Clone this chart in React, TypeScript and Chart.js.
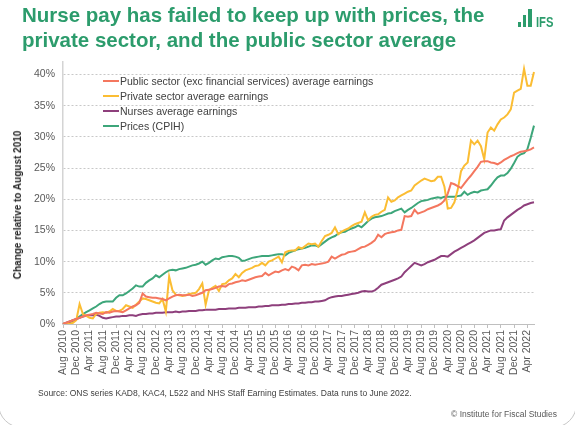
import React, { useEffect, useRef } from 'react';
import { Chart, registerables } from 'chart.js';

Chart.register(...registerables);

const MONTHS = ['Jan', 'Feb', 'Mar', 'Apr', 'May', 'Jun', 'Jul', 'Aug', 'Sep', 'Oct', 'Nov', 'Dec'];
const START_YEAR = 2010;
const START_MONTH = 7; // Aug
const N_POINTS = 143; // Aug 2010 .. Jun 2022

const categories: string[] = [];
for (let k = 0; k < N_POINTS; k++) {
  const m = (START_MONTH + k) % 12;
  const y = START_YEAR + Math.floor((START_MONTH + k) / 12);
  categories.push(MONTHS[m] + ' ' + y);
}

const yTicks = [0, 5, 10, 15, 20, 25, 30, 35, 40];

const publicSector = [
  0, 0.2, 0.4, 0.6, 0.8, 1.0, 1.2, 1.4, 1.5, 1.6,
  1.8, 1.7, 1.6, 1.9, 1.8, 2.0, 2.1, 2.0, 1.9, 2.2,
  2.5, 2.8, 3.0, 3.4, 4.9, 4.4, 4.3, 4.2, 4.2, 4.1,
  4.0, 3.8, 4.1, 4.4, 4.6, 4.7, 4.6, 4.6, 4.7, 4.5,
  4.6, 4.8, 5.0, 5.4, 5.5, 5.6, 5.8, 6.0, 6.1, 6.0,
  6.4, 6.5, 6.7, 6.8, 7.0, 6.9, 7.1, 7.3, 7.5, 7.6,
  7.7, 8.2, 7.8, 8.1, 8.4, 8.3, 8.6, 8.8, 8.6, 9.2,
  9.0, 8.6, 9.4, 9.5, 9.4, 9.6, 9.5, 9.6, 9.7, 9.8,
  10.0, 10.8, 10.5, 10.8, 11.1, 11.2, 11.5, 11.6, 11.7, 12.0,
  12.3, 12.4, 12.7, 13.0, 13.4, 14.3, 13.9, 14.4, 14.6, 14.7,
  14.8, 15.0, 15.1, 17.3, 17.2, 17.3, 18.3, 17.7, 17.9, 18.1,
  18.4, 18.6, 18.8, 19.0, 19.3, 19.8, 20.9, 22.6, 22.4, 22.1,
  21.8, 22.5, 23.2, 23.8, 24.5, 25.2, 26.0, 26.1, 26.1, 25.9,
  25.8, 25.6, 25.9, 26.3, 26.6, 26.9, 27.1, 27.4, 27.6, 27.7,
  27.8, 28.0, 28.3,
];

const privateSector = [
  0, 0.1, 0.0, 0.2, 0.6, 3.2, 1.6, 1.3, 1.0, 0.9,
  1.6, 1.8, 1.9, 1.8, 2.0, 2.4, 2.1, 2.1, 2.4, 3.0,
  2.8, 2.6, 3.1, 3.6, 4.1, 4.0, 3.8, 3.6, 3.4, 3.3,
  4.0, 2.0, 7.6, 5.4, 4.7, 4.6, 4.5, 4.6, 4.8, 4.9,
  5.0, 5.6, 6.5, 3.1, 5.4, 5.8, 6.1, 5.3, 6.4, 6.5,
  7.0, 7.3, 8.0, 7.5, 8.2, 8.6, 8.8, 9.0, 9.3, 9.4,
  9.8, 9.4, 10.0, 10.2, 10.5, 10.8, 9.9, 11.5, 11.7, 11.8,
  11.8, 12.3, 12.1, 12.5, 12.9, 12.8, 12.9, 12.4, 13.3, 14.1,
  14.3, 14.6, 15.5, 14.4, 14.8, 15.1, 15.3, 15.7, 16.0, 16.2,
  16.4, 17.9, 16.6, 17.2, 17.5, 17.6, 18.0, 18.3, 20.3, 19.6,
  19.8, 20.3, 20.6, 20.9, 21.2, 21.4, 22.2, 22.6, 23.0, 23.3,
  23.1, 22.9, 23.0, 23.6, 23.6, 22.0, 18.5, 18.6, 19.5, 21.5,
  24.5, 25.4, 25.9, 29.4, 28.8, 29.4, 28.5, 26.4, 30.7, 31.5,
  31.0, 32.0, 32.8, 33.1, 33.6, 34.4, 37.1, 37.4, 37.7, 40.9,
  38.2, 38.2, 40.4,
];

const nurses = [
  0, 0.2, 0.4, 0.6, 0.8, 1.0, 1.2, 1.3, 1.4, 1.4,
  1.5, 1.3, 1.0, 0.9, 1.0, 1.1, 1.2, 1.2, 1.3, 1.3,
  1.4, 1.4, 1.3, 1.5, 1.6, 1.6, 1.7, 1.7, 1.8, 1.8,
  1.8, 1.9, 1.9, 1.9, 2.0, 1.9, 2.0, 2.0, 2.1, 2.1,
  2.1, 2.2, 2.2, 2.3, 2.3, 2.3, 2.3, 2.4, 2.4, 2.4,
  2.5, 2.5, 2.5, 2.6, 2.6, 2.6, 2.7, 2.7, 2.7, 2.8,
  2.8, 2.9, 2.9, 3.0, 3.0, 3.0, 3.1, 3.1, 3.2, 3.2,
  3.3, 3.3, 3.4, 3.4, 3.5, 3.5, 3.6, 3.6, 3.7, 3.8,
  4.1, 4.3, 4.4, 4.5, 4.5, 4.6, 4.7, 4.8, 4.9, 5.0,
  5.2, 5.3, 5.2, 5.2, 5.4, 5.8, 6.3, 6.5, 6.7, 6.9,
  7.1, 7.3, 7.6, 8.3, 8.8, 9.3, 9.8, 9.6, 9.4, 9.6,
  9.9, 10.1, 10.3, 10.6, 10.9, 10.9, 10.8, 11.2, 11.6, 11.9,
  12.2, 12.5, 12.8, 13.1, 13.4, 13.8, 14.2, 14.6, 14.8, 15.0,
  15.0, 15.1, 15.2, 16.6, 17.1, 17.5, 17.9, 18.3, 18.6, 19.0,
  19.2, 19.4, 19.5,
];

const prices = [
  0, 0.1, 0.3, 0.4, 0.8, 1.2, 1.6, 1.9, 2.2, 2.5,
  2.8, 3.2, 3.5, 3.6, 3.6, 3.6, 4.2, 4.6, 4.6, 4.9,
  5.3, 5.7, 6.2, 6.0, 6.0, 6.6, 7.0, 7.3, 7.8, 7.5,
  7.9, 8.3, 8.6, 8.7, 8.6, 8.8, 8.9, 9.0, 9.2, 9.4,
  9.5, 9.7, 10.0, 9.5, 9.8, 10.2, 10.5, 10.4, 10.7, 10.8,
  10.9, 10.9, 10.8, 10.6, 10.1, 10.2, 10.4, 10.6, 10.7, 10.8,
  10.9, 10.9, 10.9, 11.0, 11.1, 11.2, 11.2, 11.0, 11.4, 11.6,
  11.8, 12.0, 12.1, 12.2, 12.4, 12.6, 12.6, 12.4, 12.8, 13.2,
  13.6, 13.9, 14.1, 14.5, 14.7, 14.8, 15.1, 15.3, 15.5, 15.8,
  15.5, 16.0, 16.5, 16.9, 17.1, 17.2, 17.3, 17.5, 17.7, 17.8,
  18.1, 18.3, 18.5, 17.9, 18.3, 18.6, 19.0, 19.4, 19.7, 19.8,
  19.9, 20.1, 20.2, 20.3, 20.2, 20.4, 20.4, 20.4, 20.4, 20.5,
  20.6, 21.2, 20.7, 21.0, 21.2, 21.1, 21.4, 21.5, 21.6, 22.2,
  22.9, 23.5, 23.8, 23.8, 24.2, 24.9, 25.8, 26.8, 27.2, 27.4,
  28.0, 29.8, 31.8,
];

const seriesNames = [
  'Public sector (exc financial services) average earnings',
  'Private sector average earnings',
  'Nurses average earnings',
  'Prices (CPIH)',
];
const seriesColors = ['#F4775F', '#FBBD33', '#8E3F7C', '#3DA67A'];
const seriesData = [publicSector, privateSector, nurses, prices];

const FONT = "'Liberation Sans', Arial, Helvetica, sans-serif";
const GREEN = '#2c9c6c';

export default function App() {
  const canvasRef = useRef<HTMLCanvasElement | null>(null);

  useEffect(() => {
    if (!canvasRef.current) return;
    Chart.defaults.font.family = FONT;
    const chart = new Chart(canvasRef.current, {
      type: 'line',
      data: {
        labels: categories,
        datasets: seriesData.map((d, i) => ({
          label: seriesNames[i],
          data: d,
          borderColor: seriesColors[i],
          backgroundColor: seriesColors[i],
          borderWidth: 2,
          pointRadius: 0,
          pointHoverRadius: 0,
          tension: 0,
          fill: false,
        })),
      },
      options: {
        responsive: false,
        animation: false,
        events: [],
        layout: { padding: { top: 62, right: 41, bottom: 41, left: 0 } },
        plugins: {
          legend: { display: false },
          tooltip: { enabled: false },
          title: { display: false },
        },
        scales: {
          x: {
            type: 'category',
            offset: false,
            grid: {
              drawOnChartArea: false,
              drawTicks: true,
              tickLength: 4,
              tickColor: (ctx: any) => (ctx.index % 4 === 0 ? '#bfbfbf' : 'rgba(0,0,0,0)'),
            },
            border: { display: true, color: '#bfbfbf', width: 1 },
            ticks: {
              autoSkip: false,
              minRotation: 90,
              maxRotation: 90,
              padding: 2,
              color: '#595959',
              font: { size: 10.5, family: FONT },
              callback: (_v: any, idx: number) => (idx % 4 === 0 ? categories[idx] : ''),
            },
            afterFit: (scale: any) => {
              scale.height = 60;
            },
          },
          y: {
            type: 'linear',
            min: 0,
            max: 42,
            grid: {
              color: '#c8c8c8',
              lineWidth: 1,
              drawTicks: false,
            },
            border: { display: true, color: '#d4d4d4', width: 1.5, dash: [2, 2] },
            ticks: {
              stepSize: 5,
              includeBounds: false,
              padding: 8,
              color: '#595959',
              font: { size: 10.5, family: FONT },
              callback: (v: any) => (yTicks.includes(Number(v)) ? v + '%' : ''),
            },
            title: { display: false },
            afterFit: (scale: any) => {
              scale.width = 63;
            },
          },
        },
      },
    } as any);
    return () => chart.destroy();
  }, []);

  const legendRows = seriesNames.map((name, i) => (
    <div
      key={name}
      style={{
        position: 'absolute',
        left: 103,
        top: 81 + i * 15 - 7.5,
        height: 15,
        display: 'flex',
        alignItems: 'center',
        whiteSpace: 'nowrap',
      }}
    >
      <div style={{ width: 16, height: 2, background: seriesColors[i], marginRight: 1 }} />
      <span style={{ fontSize: 10.5, color: '#404040', fontFamily: FONT }}>{name}</span>
    </div>
  ));

  return (
    <div
      style={{
        position: 'fixed',
        left: 0,
        top: 0,
        width: 575,
        height: 425,
        background: '#ffffff',
        overflow: 'hidden',
        fontFamily: FONT,
      }}
    >
      <div
        style={{
          position: 'absolute',
          left: -2,
          top: -30,
          width: 579,
          height: 458,
          border: '1px solid #c8c8c8',
          borderRadius: 24,
          boxSizing: 'border-box',
        }}
      />
      <canvas ref={canvasRef} width={575} height={425} style={{ position: 'absolute', left: 0, top: 0 }} />
      <div
        style={{
          position: 'absolute',
          left: 18,
          top: 205,
          width: 0,
          height: 0,
        }}
      >
        <div
          style={{
            position: 'absolute',
            left: 0,
            top: 0,
            transform: 'translate(-50%, -50%) rotate(-90deg)',
            fontSize: 10,
            lineHeight: '12px',
            fontWeight: 'bold',
            color: '#262626',
            whiteSpace: 'nowrap',
          }}
        >
          Change relative to August 2010
        </div>
      </div>
      <div
        style={{
          position: 'absolute',
          left: 22,
          top: 2.4,
          fontSize: 20.5,
          lineHeight: '25px',
          fontWeight: 'bold',
          color: GREEN,
          whiteSpace: 'nowrap',
        }}
      >
        <div>Nurse pay has failed to keep up with prices, the</div>
        <div>private sector, and the public sector average</div>
      </div>
      <div style={{ position: 'absolute', left: 518, top: 22, width: 3, height: 5, background: GREEN }} />
      <div style={{ position: 'absolute', left: 523, top: 15, width: 3, height: 12, background: GREEN }} />
      <div style={{ position: 'absolute', left: 528, top: 9, width: 3.5, height: 18, background: GREEN }} />
      <div
        style={{
          position: 'absolute',
          left: 535.5,
          top: 14.8,
          fontSize: 14,
          lineHeight: '14px',
          fontWeight: 'bold',
          color: GREEN,
          transform: 'scaleX(0.8)',
          transformOrigin: 'left center',
          fontFamily: "'Liberation Sans Narrow', 'Liberation Sans', Arial, sans-serif",
        }}
      >
        IFS
      </div>
      {legendRows}
      <div
        style={{
          position: 'absolute',
          left: 38,
          top: 388,
          fontSize: 8.5,
          lineHeight: '10px',
          color: '#404040',
          whiteSpace: 'nowrap',
        }}
      >
        Source: ONS series KAD8, KAC4, L522 and NHS Staff Earning Estimates. Data runs to June 2022.
      </div>
      <div
        style={{
          position: 'absolute',
          right: 18,
          top: 409,
          fontSize: 8.5,
          lineHeight: '10px',
          color: '#595959',
          whiteSpace: 'nowrap',
        }}
      >
        © Institute for Fiscal Studies
      </div>
    </div>
  );
}
